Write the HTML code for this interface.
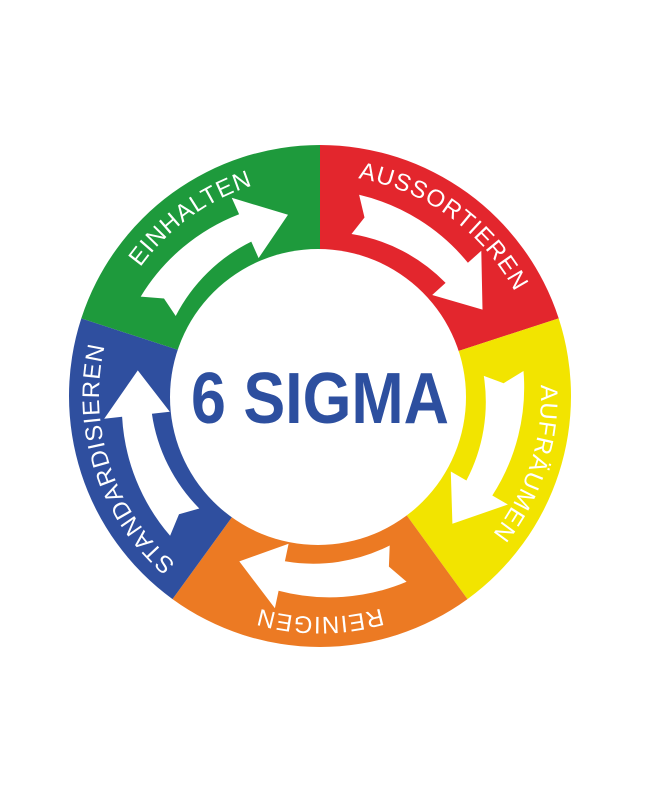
<!DOCTYPE html>
<html><head><meta charset="utf-8"><style>
html,body{margin:0;padding:0;background:#fff;}
svg{display:block;}
</style></head><body>
<svg id="s" width="654" height="800" viewBox="0 0 654 800" xmlns="http://www.w3.org/2000/svg">
<defs>
<path id="tp" d="M320,175 A221,221 0 1 1 320,617 A221,221 0 1 1 320,175"/>
</defs>
<g id="segs"></g>
<circle cx="318" cy="397" r="148" fill="#fff"/>
<g id="arrows" fill="#fff"></g>
<g font-family="Liberation Sans, sans-serif" font-size="24" letter-spacing="1" fill="#fff" text-anchor="middle">
<text><textPath href="#tp" startOffset="90%">EINHALTEN</textPath></text>
<text><textPath href="#tp" startOffset="10%">AUSSORTIEREN</textPath></text>
<text><textPath href="#tp" startOffset="30%">AUFRÄUMEN</textPath></text>
<text><textPath href="#tp" startOffset="50%">REINIGEN</textPath></text>
<text><textPath href="#tp" startOffset="70%">STANDARDISIEREN</textPath></text>
</g>
<text x="320" y="423" font-family="Liberation Sans, sans-serif" font-weight="bold" font-size="72" fill="#2d4f9f" text-anchor="middle" textLength="258" lengthAdjust="spacingAndGlyphs">6 SIGMA</text>
</svg>
<script>
var cx=320,cy=396,R=251,r=140;
function pt(a,rad){var t=a*Math.PI/180;return [(cx+rad*Math.sin(t)).toFixed(1),(cy-rad*Math.cos(t)).toFixed(1)];}
var cols=["#e3262d","#f2e400","#ec7a23","#2f4f9f","#1e9a3c"];
var g=document.getElementById("segs"),h="";
for(var k=0;k<5;k++){var a0=k*72,a1=a0+72;var p1=pt(a0,R),p2=pt(a1,R),p3=pt(a1,r),p4=pt(a0,r);
h+='<path fill="'+cols[k]+'" d="M'+p1+' A'+R+','+R+' 0 0 1 '+p2+' L'+p3+' A'+r+','+r+' 0 0 0 '+p4+' Z"/>';}
g.innerHTML=h;
var ar=document.getElementById("arrows"),s="";var rr=184,w=15,hw=33;
for(var k=0;k<5;k++){var c=36+72*k;var a0=c-25,a1=c+12,a2=c+26;
var o0=pt(a0,rr+w+6),o1=pt(a1,rr+w),H1=pt(a1,rr+hw),T=pt(a2,rr),H2=pt(a1,rr-hw),i1=pt(a1,rr-w),i0=pt(a0,rr-w-4),m=pt(a0+3,rr);
s+='<path d="M'+o0+' A'+(rr+w)+','+(rr+w)+' 0 0 1 '+o1+' L'+H1+' L'+T+' L'+H2+' L'+i1+' A'+(rr-w)+','+(rr-w)+' 0 0 0 '+i0+' L'+m+' Z"/>';}
ar.innerHTML=s;
</script>
</body></html>
